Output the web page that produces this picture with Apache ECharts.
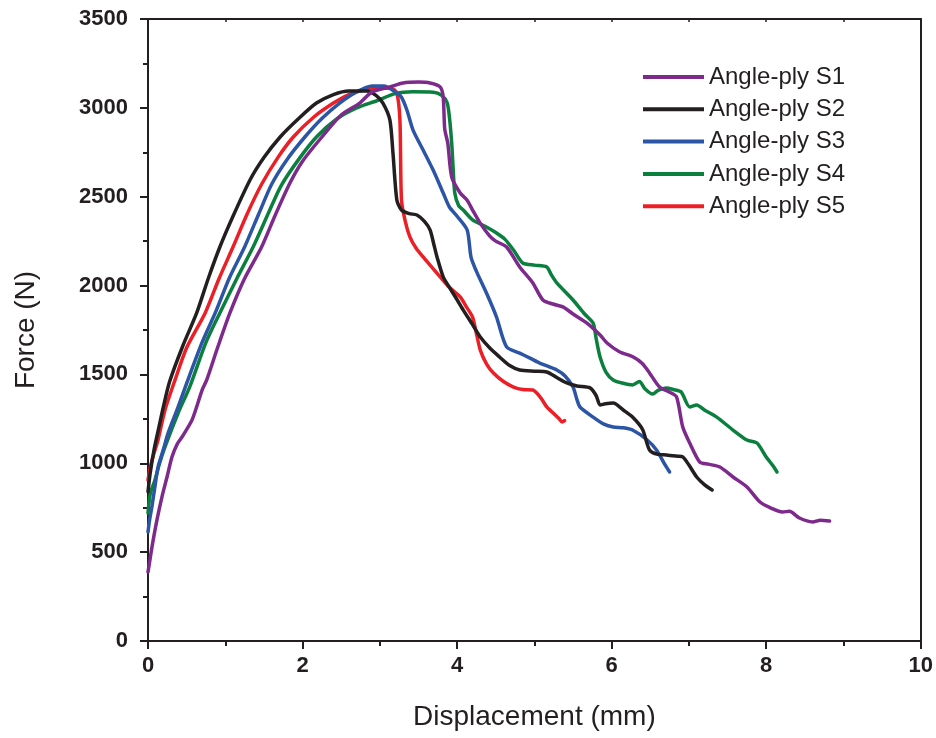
<!DOCTYPE html>
<html>
<head>
<meta charset="utf-8">
<script src="https://cdn.jsdelivr.net/npm/echarts@6/dist/echarts.min.js"></script>
<style>
html,body{margin:0;padding:0;background:#fff;}
#chart{width:936px;height:738px;}
</style>
</head>
<body>
<div id="chart"></div>
<script>
// Displacement (mm), Force (N) pairs
var seriesNames = ['Angle-ply S1', 'Angle-ply S2', 'Angle-ply S3', 'Angle-ply S4', 'Angle-ply S5'];

var s1 = [[0,388],[0.03,470],[0.06,551],[0.12,690],[0.18,810],[0.25,930],[0.31,1035],[0.38,1110],[0.44,1148],[0.57,1244],[0.7,1412],[0.76,1469],[0.9,1650],[1.06,1846],[1.25,2040],[1.47,2217],[1.65,2400],[1.84,2580],[2.0,2700],[2.25,2836],[2.5,2960],[2.74,3027],[2.9,3090],[3.13,3118],[3.3,3140],[3.5,3145],[3.65,3140],[3.78,3118],[3.82,3061],[3.84,2880],[3.88,2800],[3.93,2611],[4.04,2521],[4.13,2480],[4.2,2425],[4.3,2350],[4.42,2280],[4.5,2250],[4.64,2217],[4.81,2105],[4.98,2015],[5.11,1919],[5.25,1895],[5.37,1880],[5.5,1840],[5.68,1789],[5.85,1722],[5.94,1677],[6.1,1628],[6.28,1598],[6.4,1560],[6.49,1508],[6.62,1429],[6.75,1400],[6.84,1373],[6.92,1204],[7.01,1114],[7.14,1007],[7.25,995],[7.4,979],[7.57,923],[7.75,867],[7.92,782],[8.05,750],[8.21,726],[8.3,730],[8.43,692],[8.6,670],[8.7,680],[8.82,675]];

var s2 = [[0,840],[0.03,950],[0.08,1080],[0.14,1200],[0.2,1320],[0.28,1460],[0.45,1660],[0.63,1846],[0.78,2040],[0.93,2217],[1.1,2390],[1.32,2594],[1.5,2720],[1.71,2836],[1.95,2940],[2.18,3027],[2.4,3075],[2.6,3095],[2.83,3095],[2.95,3070],[3.04,3027],[3.13,2932],[3.17,2746],[3.22,2482],[3.28,2425],[3.38,2405],[3.48,2397],[3.58,2360],[3.65,2313],[3.7,2230],[3.74,2161],[3.82,2049],[3.9,1990],[4.0,1920],[4.08,1862],[4.2,1780],[4.3,1711],[4.42,1650],[4.55,1598],[4.68,1550],[4.81,1525],[5.0,1518],[5.16,1514],[5.3,1480],[5.42,1452],[5.55,1435],[5.72,1424],[5.8,1380],[5.85,1328],[5.92,1335],[6.02,1339],[6.15,1300],[6.27,1260],[6.4,1190],[6.49,1075],[6.6,1050],[6.71,1047],[6.85,1040],[6.92,1036],[7.0,990],[7.1,923],[7.2,880],[7.3,850]];

var s3 = [[0,613],[0.02,680],[0.05,754],[0.09,870],[0.13,979],[0.2,1080],[0.26,1170],[0.39,1317],[0.5,1450],[0.7,1680],[0.87,1846],[1.05,2040],[1.25,2217],[1.43,2400],[1.6,2570],[1.8,2710],[2.03,2836],[2.25,2940],[2.48,3027],[2.7,3090],[2.9,3123],[3.05,3123],[3.2,3090],[3.28,3060],[3.35,2988],[3.43,2875],[3.56,2763],[3.69,2650],[3.82,2521],[3.9,2442],[4.0,2390],[4.13,2313],[4.18,2160],[4.25,2080],[4.38,1958],[4.51,1823],[4.64,1655],[4.81,1620],[4.95,1590],[5.07,1564],[5.29,1525],[5.4,1490],[5.5,1429],[5.55,1360],[5.59,1317],[5.76,1260],[5.9,1220],[6.02,1204],[6.15,1200],[6.27,1187],[6.46,1131],[6.58,1075],[6.68,1000],[6.75,951]];

var s4 = [[0,720],[0.03,830],[0.09,906],[0.15,1000],[0.22,1092],[0.39,1283],[0.54,1430],[0.75,1680],[0.93,1846],[1.15,2040],[1.36,2217],[1.55,2400],[1.72,2560],[1.95,2710],[2.18,2836],[2.45,2940],[2.7,3000],[2.96,3040],[3.2,3080],[3.43,3090],[3.69,3088],[3.8,3070],[3.87,3030],[3.9,2950],[3.93,2802],[3.95,2650],[3.97,2521],[4.02,2450],[4.08,2425],[4.2,2370],[4.38,2330],[4.51,2296],[4.62,2260],[4.73,2200],[4.85,2127],[5.0,2115],[5.16,2105],[5.22,2060],[5.29,2015],[5.5,1919],[5.65,1840],[5.76,1789],[5.8,1700],[5.85,1598],[5.93,1510],[6.02,1469],[6.15,1450],[6.27,1441],[6.36,1460],[6.43,1420],[6.53,1390],[6.6,1410],[6.71,1424],[6.8,1415],[6.9,1401],[7.01,1317],[7.1,1328],[7.2,1300],[7.36,1260],[7.57,1187],[7.75,1131],[7.88,1114],[8.0,1036],[8.08,990],[8.14,951]];

var s5 = [[0,906],[0.03,980],[0.08,1060],[0.13,1131],[0.22,1300],[0.35,1469],[0.5,1650],[0.74,1846],[0.92,2040],[1.1,2217],[1.28,2400],[1.47,2570],[1.68,2720],[1.88,2836],[2.15,2950],[2.4,3027],[2.6,3075],[2.8,3100],[3.0,3112],[3.15,3110],[3.22,3084],[3.26,2932],[3.28,2482],[3.33,2360],[3.39,2273],[3.47,2210],[3.56,2161],[3.67,2105],[3.78,2049],[3.9,1990],[4.04,1936],[4.12,1880],[4.2,1823],[4.25,1730],[4.3,1637],[4.38,1560],[4.47,1508],[4.6,1460],[4.73,1429],[4.85,1415],[4.98,1412],[5.08,1370],[5.16,1317],[5.25,1280],[5.32,1250],[5.36,1232],[5.39,1240]];

var seriesData = [s1, s2, s3, s4, s5];
var colors = ['#7D2A8C', '#231F20', '#2D55A5', '#0B7F3E', '#EC1F26'];

var axisColor = '#231F20';
var fontFam = 'Liberation Sans, Arial, sans-serif';
var chart = echarts.init(document.getElementById('chart'), null, {renderer: 'canvas'});

var series = seriesNames.map(function (name, i) {
  return {
    name: name,
    type: 'line',
    data: seriesData[i],
    symbol: 'none',
    smooth: 0.25,
    lineStyle: {color: colors[i], width: 3.5, join: 'round', cap: 'round'},
    itemStyle: {color: colors[i]},
    z: 10 - i
  };
});

chart.setOption({
  animation: false,
  backgroundColor: '#ffffff',
  color: colors,
  grid: {left: 148, right: 15, top: 19, bottom: 97, containLabel: false},
  legend: {
    orient: 'vertical',
    left: 638,
    top: 60,
    itemWidth: 61,
    itemHeight: 4,
    itemGap: 8.3,
    icon: 'rect',
    textStyle: {fontFamily: fontFam, fontSize: 24, color: axisColor, lineHeight: 24},
    data: seriesNames
  },
  xAxis: [{
    type: 'value',
    min: 0, max: 10, interval: 2,
    name: 'Displacement (mm)',
    nameLocation: 'middle',
    nameGap: 62,
    nameTextStyle: {fontFamily: fontFam, fontSize: 28, color: axisColor},
    axisLine: {show: true, onZero: false, lineStyle: {color: axisColor, width: 2}},
    axisTick: {show: true, inside: false, length: 8, lineStyle: {color: axisColor, width: 2}},
    minorTick: {show: true, splitNumber: 2, length: 5, lineStyle: {color: axisColor, width: 2}},
    axisLabel: {margin: 14, fontFamily: fontFam, fontWeight: 'bold', fontSize: 22, color: axisColor,
      formatter: function (v) { return String(v); }},
    splitLine: {show: false}
  }, {
    type: 'value',
    position: 'top',
    min: 0, max: 10, interval: 2,
    axisLine: {show: true, onZero: false, lineStyle: {color: axisColor, width: 2}},
    axisTick: {show: true, inside: true, length: 3, lineStyle: {color: axisColor, width: 1.5}},
    minorTick: {show: true, splitNumber: 2, length: 3, lineStyle: {color: axisColor, width: 1.5}},
    axisLabel: {show: false},
    splitLine: {show: false}
  }],
  yAxis: [{
    type: 'value',
    min: 0, max: 3500, interval: 500,
    name: 'Force (N)',
    nameLocation: 'middle',
    nameGap: 108,
    nameTextStyle: {fontFamily: fontFam, fontSize: 28, color: axisColor},
    axisLine: {show: true, onZero: false, lineStyle: {color: axisColor, width: 2}},
    axisTick: {show: true, inside: false, length: 8, lineStyle: {color: axisColor, width: 2}},
    minorTick: {show: true, splitNumber: 2, length: 5, lineStyle: {color: axisColor, width: 2}},
    axisLabel: {margin: 20, fontFamily: fontFam, fontWeight: 'bold', fontSize: 22, color: axisColor,
      formatter: function (v) { return String(v); }},
    splitLine: {show: false}
  }, {
    type: 'value',
    position: 'right',
    min: 0, max: 3500, interval: 500,
    axisLine: {show: true, onZero: false, lineStyle: {color: axisColor, width: 2}},
    axisTick: {show: false},
    axisLabel: {show: false},
    splitLine: {show: false}
  }],
  series: series
});
</script>
</body>
</html>
